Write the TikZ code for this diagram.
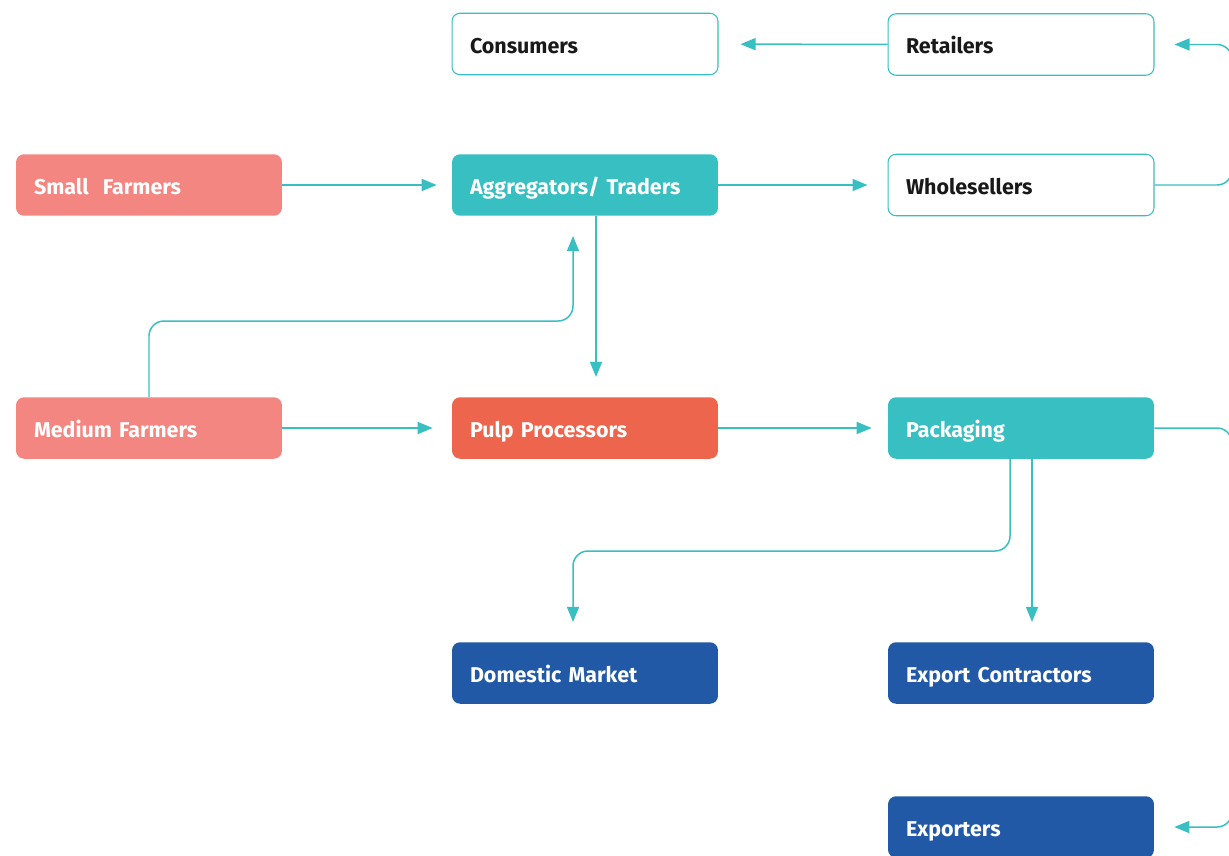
\documentclass[tikz,border=0pt]{standalone}
\usepackage{fontspec}
\setmainfont{Fira Sans}
\usetikzlibrary{arrows.meta}
\definecolor{tealc}{RGB}{56,191,193}
\definecolor{salmonc}{RGB}{243,134,128}
\definecolor{coralc}{RGB}{236,101,76}
\definecolor{navyc}{RGB}{33,89,166}
\begin{document}
\begin{tikzpicture}[x=0.02cm, y=-0.02cm,
  box/.style = {rectangle, rounded corners=0.16cm, minimum height=1.23cm, text width=4.6cm, inner xsep=0.36cm, text height=2.25ex, text depth=0.25ex, align=left, font=\bfseries\fontsize{12.2}{14}\selectfont},
  plain/.style = {box, draw=tealc, line width=0.6pt, fill=white, text=black!90},
  filled/.style = {box, fill=#1, text=white},
  flow/.style = {draw=tealc, line width=0.85pt, -{Triangle[length=0.3cm,width=0.24cm]}, shorten >=0.4cm}]
  \clip (0,0) rectangle (1229,855);
  \node[plain] (consumers) at (585,44) {Consumers};
  \node[plain] (retailers) at (1021,44.5) {Retailers};
  \node[filled=salmonc] (small) at (149,185) {Small\ \ Farmers};
  \node[filled=tealc] (agg) at (585,185) {Aggregators/ Traders};
  \node[plain] (whole) at (1021,185) {Wholesellers};
  \node[filled=salmonc] (medium) at (149,428) {Medium Farmers};
  \node[filled=coralc] (pulp) at (585,428) {Pulp Processors};
  \node[filled=tealc] (pack) at (1021,428) {Packaging};
  \node[filled=navyc] (domestic) at (585,673) {Domestic Market};
  \node[filled=navyc] (contractors) at (1021,673) {Export Contractors};
  \node[filled=navyc] (exporters) at (1021,827) {Exporters};
  \coordinate (bend1) at (400,321);
  \coordinate (bend2) at (800,551);
  \coordinate (edge1) at (1232,100);
  \coordinate (edge2) at (1232,600);
  \draw[flow, shorten >=0.44cm] (retailers) -- (consumers);
  \draw[flow, shorten >=0.3cm] (small) -- (agg);
  \draw[flow] (agg) -- (whole);
  \draw[flow] ([xshift=0.22cm]agg.south) -- ([xshift=0.22cm]pulp.north);
  \draw[flow, rounded corners=0.3cm] (medium.north) |- (bend1) -| ([xshift=-0.24cm]agg.south);
  \draw[flow, shorten >=0.38cm] (medium) -- (pulp);
  \draw[flow, shorten >=0.32cm] (pulp) -- (pack);
  \draw[flow, rounded corners=0.3cm] ([xshift=-0.22cm]pack.south) |- (bend2) -| ([xshift=-0.24cm]domestic.north);
  \draw[flow] ([xshift=0.22cm]pack.south) -- ([xshift=0.22cm]contractors.north);
  \draw[flow, rounded corners=0.3cm] (whole.east) -| (edge1) |- (retailers.east);
  \draw[flow, rounded corners=0.3cm] (pack.east) -| (edge2) |- (exporters.east);
\end{tikzpicture}
\end{document}
